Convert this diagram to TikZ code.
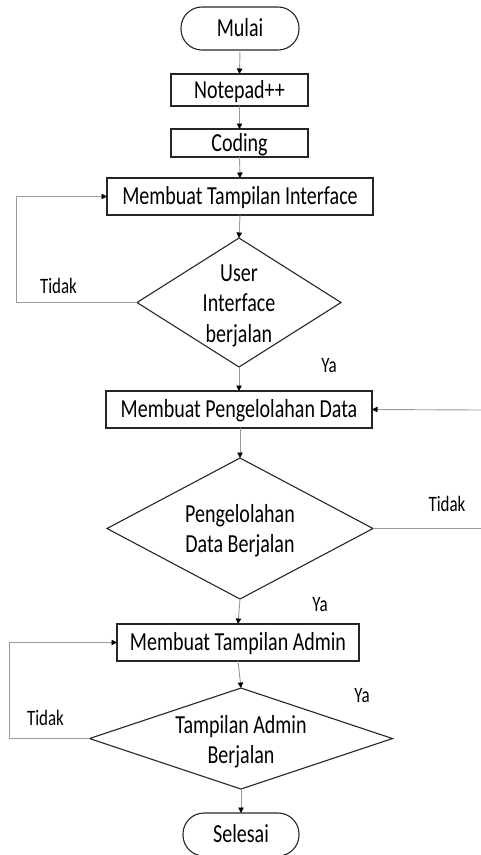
\documentclass[tikz,border=0pt]{standalone}
\usepackage{fontspec}
\setmainfont{Carlito}[FakeStretch=0.77]
\usetikzlibrary{shapes.geometric,arrows.meta}
\begin{document}
\begin{tikzpicture}[x=1pt,y=-1pt,
  boxtext/.style={font=\fontsize{26}{30.5}\selectfont},
  procbox/.style={draw=black!85,line width=1.1pt,rectangle,inner sep=0pt,outer sep=0pt,boxtext,text height=16.7pt,text depth=0pt},
  termbox/.style={procbox,rounded corners=21pt},
  decbox/.style={draw=black!85,line width=1.1pt,diamond,inner sep=0pt,outer sep=0pt},
  dectext/.style={boxtext,align=center},
  lbl/.style={font=\fontsize{22}{26}\selectfont,inner sep=0pt,text height=14.2pt,text depth=0pt},
  conn/.style={draw=black!40,line width=0.9pt,-{Triangle[length=5.5pt,width=5.5pt,fill=black,color=black]}},
  plain/.style={draw=black!40,line width=0.9pt}
]
\useasboundingbox (0,0) rectangle (481,855);
\clip (0,0) rectangle (481,855);

\node[termbox,minimum width=118pt,minimum height=43pt] (mulai) at (240,28.5) {Mulai};
\node[procbox,minimum width=137pt,minimum height=32pt] (notepad) at (239.5,90) {Notepad++};
\node[procbox,minimum width=137pt,minimum height=28pt] (coding) at (239.5,143) {Coding};
\node[procbox,minimum width=266pt,minimum height=37pt] (mti) at (240,196.5) {Membuat Tampilan Interface};
\node[decbox,minimum width=204pt,minimum height=129pt] (d1) at (239,302.5) {};
\node[dectext] (d1t) at (239,305.5) {User\\Interface\\berjalan};
\node[procbox,minimum width=266pt,minimum height=37pt] (mpd) at (239,409.5) {Membuat Pengelolahan Data};
\node[decbox,minimum width=266pt,minimum height=141pt] (d2) at (240,528.5) {};
\node[dectext] (d2t) at (240,530.5) {Pengelolahan\\Data Berjalan};
\node[procbox,minimum width=242pt,minimum height=37pt] (mta) at (238,642.5) {Membuat Tampilan Admin};
\node[decbox,minimum width=303pt,minimum height=101pt] (d3) at (241,738.5) {};
\node[dectext] (d3t) at (241,741.5) {Tampilan Admin\\Berjalan};
\node[termbox,minimum width=116pt,minimum height=43pt] (selesai) at (241,834.5) {Selesai};

\node[lbl] (t1) at (58.5,286) {Tidak};
\node[lbl] (y1) at (329,365) {Ya};
\node[lbl] (t2) at (447,504) {Tidak};
\node[lbl] (y2) at (320,604) {Ya};
\node[lbl] (t3) at (45.5,718) {Tidak};
\node[lbl] (y3) at (362,695) {Ya};

\coordinate (rin) at (481,410);
\coordinate (rout) at (481,528.5);

\draw[conn] (mulai.south) -- (notepad.north);
\draw[conn] (notepad.south) -- (coding.north);
\draw[conn] (coding.south) -- (mti.north);
\draw[conn] (mti.south) -- (d1.north);
\draw[conn] (d1.west) -- (16,302.5) -- (16,196.5) -- (mti.west);
\draw[conn] (d1.south) -- (mpd.north);
\draw[conn] (rin) -- (mpd.east);
\draw[conn] (mpd.south -| d2.north) -- (d2.north);
\draw[plain] (d2.east) -- (rout);
\draw[conn] (d2.south) -- (mta.north);
\draw[conn] (mta.south) -- (d3.north);
\draw[conn] (d3.west) -- (9,738.5) -- (9,642.5) -- (mta.west);
\draw[conn] (d3.south) -- (selesai.north);
\end{tikzpicture}
\end{document}
